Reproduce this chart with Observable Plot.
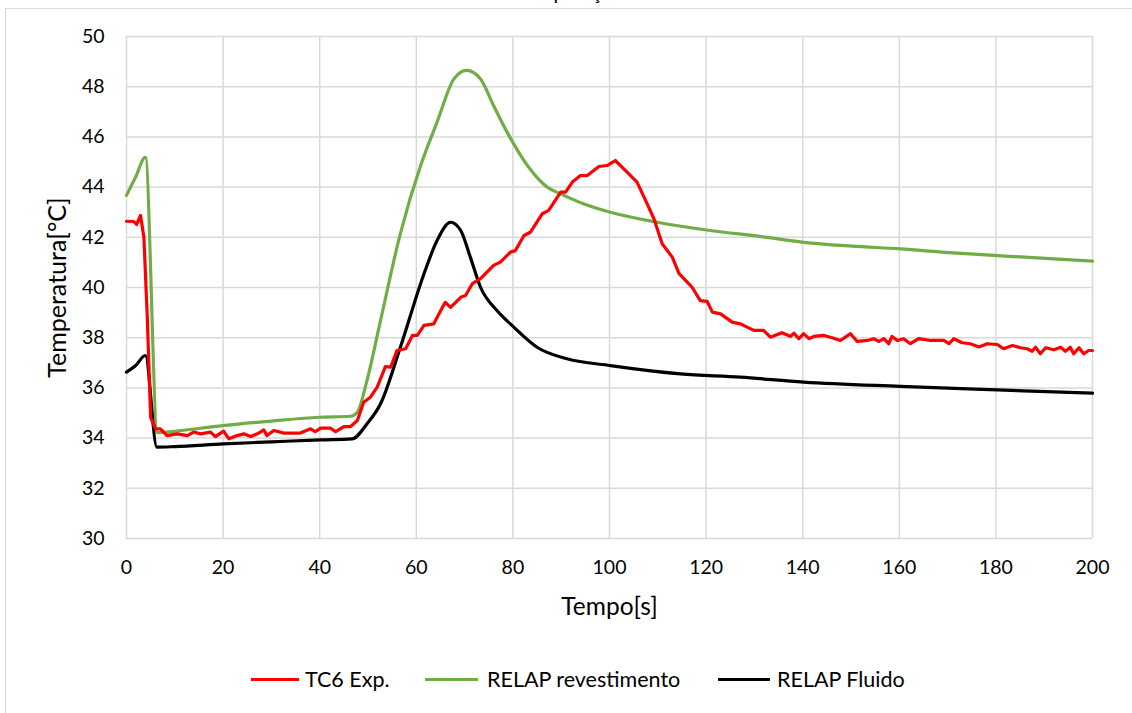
<!DOCTYPE html>
<html>
<head>
<meta charset="utf-8">
<script src="https://cdn.jsdelivr.net/npm/d3@7"></script>
<script src="https://cdn.jsdelivr.net/npm/@observablehq/plot@0.6"></script>
<style>
  html, body { margin: 0; padding: 0; background: #fff; }
  body { width: 1132px; height: 713px; position: relative; overflow: hidden; font-family: Lato, "Open Sans", sans-serif; color: #000; }
  #frame { position: absolute; left: 5px; top: 8px; width: 1300px; height: 900px; border: 1px solid #d9d9d9; box-sizing: border-box; }
  #title { position: absolute; left: 0; width: 1140px; top: -20px; text-align: center; font-size: 20px; }
  #chart { position: absolute; left: 0; top: 0; }
  #legend { position: absolute; left: 0; top: 666px; width: 1132px; height: 26px; font-size: 21.5px; }
  .swatch { position: absolute; top: 12px; height: 3px; }
  .label { position: absolute; top: 0; line-height: 26px; white-space: nowrap; }
</style>
</head>
<body>
<div id="frame"></div>
<div id="title"></div>
<div id="chart"></div>
<div id="legend"></div>
<script>
// ---- data ----
const chartTitle = "Comparação.";
const xLabel = "Tempo[s]";
const yLabel = "Temperatura[°C]";
const seriesNames = ["TC6 Exp.", "RELAP revestimento", "RELAP Fluido"];
const seriesColors = ["#ff0000", "#70ad47", "#000000"];
const xTicks = [0, 20, 40, 60, 80, 100, 120, 140, 160, 180, 200];
const yTicks = [30, 32, 34, 36, 38, 40, 42, 44, 46, 48, 50];

// TC6 Exp. (experimental)
const tExp = [0, 1.5, 2.1, 2.9, 3.6, 4.3, 5.0, 6.0, 7.0, 8.4, 10.5, 12.6, 13.9, 15.3, 17.4, 18.4, 20.1, 21.2, 22.9, 24.3, 25.7, 27.4, 28.4, 29.1, 30.5, 32.6, 36.0, 38.1, 39.1, 40.2, 42.2, 43.3, 45.0, 46.4, 47.8, 49.1, 50.5, 51.9, 53.6, 54.7, 56.0, 57.8, 59.2, 60.2, 61.6, 63.6, 64.7, 66.0, 67.1, 69.2, 70.2, 71.6, 73.3, 76.0, 77.4, 79.5, 80.5, 82.3, 83.6, 86.1, 87.4, 89.9, 90.9, 92.3, 94.0, 95.4, 97.8, 99.5, 101.2, 103.7, 105.7, 107.8, 109.2, 110.9, 113.0, 114.4, 116.1, 117.1, 118.8, 120.2, 121.3, 123.0, 125.4, 127.1, 129.9, 131.9, 133.3, 135.7, 137.5, 138.2, 139.2, 140.2, 141.3, 142.3, 144.4, 146.1, 147.8, 149.9, 151.3, 153.4, 154.7, 155.8, 156.8, 157.8, 158.5, 159.6, 160.9, 162.3, 164.0, 166.5, 169.2, 170.3, 171.3, 173.0, 174.7, 176.5, 178.2, 180.3, 181.6, 183.4, 185.1, 186.5, 187.5, 188.2, 189.2, 190.3, 192.0, 193.4, 194.4, 195.4, 196.1, 197.2, 198.2, 199.2, 200];
const tempExp = [42.64, 42.63, 42.51, 42.87, 42.0, 38.82, 34.83, 34.37, 34.37, 34.1, 34.17, 34.1, 34.24, 34.17, 34.24, 34.06, 34.28, 33.97, 34.1, 34.17, 34.06, 34.2, 34.33, 34.1, 34.3, 34.2, 34.2, 34.37, 34.26, 34.4, 34.4, 34.26, 34.46, 34.46, 34.7, 35.43, 35.63, 36.03, 36.85, 36.83, 37.49, 37.56, 38.09, 38.09, 38.49, 38.55, 38.95, 39.41, 39.21, 39.61, 39.68, 40.15, 40.35, 40.88, 41.01, 41.41, 41.47, 42.07, 42.2, 42.94, 43.07, 43.8, 43.8, 44.2, 44.46, 44.46, 44.82, 44.86, 45.06, 44.59, 44.2, 43.33, 42.74, 41.74, 41.21, 40.55, 40.21, 40.01, 39.48, 39.45, 39.02, 38.95, 38.62, 38.55, 38.29, 38.29, 38.02, 38.2, 38.05, 38.18, 37.96, 38.16, 37.96, 38.05, 38.09, 38.0, 37.89, 38.16, 37.85, 37.89, 37.96, 37.85, 37.96, 37.76, 38.05, 37.89, 37.96, 37.76, 37.96, 37.89, 37.89, 37.76, 37.96, 37.8, 37.76, 37.63, 37.76, 37.73, 37.56, 37.69, 37.6, 37.56, 37.46, 37.62, 37.36, 37.6, 37.52, 37.62, 37.46, 37.62, 37.36, 37.6, 37.36, 37.49, 37.49];

// RELAP revestimento
const tRev = [0, 1.9, 3.9, 6.4, 8.4, 10, 20, 30, 40, 46.4, 47.8, 49.8, 52.6, 56.7, 60.9, 64.3, 67.8, 70.4, 73.3, 76.0, 78.8, 83.0, 87.1, 89.9, 94.7, 100.2, 109.9, 120.9, 131.3, 140.2, 150.2, 160.2, 170.3, 180.3, 190.3, 200];
const tempRev = [43.67, 44.4, 45.19, 34.22, 34.24, 34.27, 34.5, 34.68, 34.83, 34.87, 35.03, 36.3, 38.69, 42.15, 44.86, 46.59, 48.31, 48.65, 48.31, 47.25, 46.19, 44.86, 44.0, 43.73, 43.33, 43.0, 42.6, 42.27, 42.03, 41.8, 41.65, 41.54, 41.39, 41.27, 41.16, 41.05];

// RELAP Fluido
const tFlu = [0, 1.9, 3.9, 6.3, 10, 20.1, 30, 40.2, 46.7, 49.8, 52.6, 56.7, 61.6, 64.3, 67.1, 69.2, 71.2, 73.3, 76.7, 80.2, 85.0, 91.2, 100.2, 114.7, 127.1, 140.2, 160.2, 180.3, 200];
const tempFlu = [36.63, 36.89, 37.29, 33.64, 33.66, 33.77, 33.85, 33.93, 33.97, 34.57, 35.37, 37.62, 40.55, 41.87, 42.6, 42.27, 41.2, 40.01, 39.08, 38.42, 37.62, 37.16, 36.89, 36.56, 36.43, 36.23, 36.06, 35.92, 35.79];

// ---- build ----
const toRows = (ts, vs, s) => ts.map((t, i) => ({t, v: vs[i], s}));
const exp = toRows(tExp, tempExp, seriesNames[0]);
const rev = toRows(tRev, tempRev, seriesNames[1]);
const flu = toRows(tFlu, tempFlu, seriesNames[2]);

const font = "Lato, 'Open Sans', sans-serif";
const W = 1132, H = 640;

const chart = Plot.plot({
  width: W,
  height: H,
  marginLeft: 126,
  marginRight: 40,
  marginTop: 36,
  marginBottom: 102,
  style: {fontFamily: font, fontSize: "19.5px", color: "#000", background: "transparent", overflow: "visible"},
  x: {domain: [0, 200]},
  y: {domain: [30, 50]},
  marks: [
    Plot.gridX(xTicks, {stroke: "#d9d9d9", strokeOpacity: 1, strokeWidth: 1.5}),
    Plot.gridY(yTicks, {stroke: "#d9d9d9", strokeOpacity: 1, strokeWidth: 1.5}),
    Plot.axisX({ticks: xTicks, tickSize: 0, tickPadding: 22, label: null, fontSize: 19.5}),
    Plot.axisY({ticks: yTicks, tickSize: 0, tickPadding: 22, label: null, fontSize: 19.5}),
    Plot.line(rev, {x: "t", y: "v", stroke: seriesColors[1], strokeWidth: 3.2, curve: "monotone-x"}),
    Plot.line(flu, {x: "t", y: "v", stroke: seriesColors[2], strokeWidth: 3.2, curve: "monotone-x"}),
    Plot.line(exp, {x: "t", y: "v", stroke: seriesColors[0], strokeWidth: 3.2, curve: "linear", strokeLinejoin: "round"}),
    Plot.text([xLabel], {text: d => d, frameAnchor: "bottom", textAnchor: "middle", lineAnchor: "middle", dy: 69, fontSize: 24.5, fill: "#000"}),
    Plot.text([yLabel], {text: d => d, frameAnchor: "left", textAnchor: "middle", lineAnchor: "middle", dx: -69, rotate: -90, fontSize: 25, fill: "#000"})
  ]
});
document.getElementById("chart").appendChild(chart);
document.getElementById("title").textContent = chartTitle;

// legend
const legendSwatchX = [251, 425, 718];
const legendSwatchW = [48, 53, 52];
const legendTextX = [305, 487, 777];
const legend = document.getElementById("legend");
seriesNames.forEach((name, i) => {
  const sw = document.createElement("div");
  sw.className = "swatch";
  sw.style.left = legendSwatchX[i] + "px";
  sw.style.width = legendSwatchW[i] + "px";
  sw.style.background = seriesColors[i];
  const tx = document.createElement("div");
  tx.className = "label";
  tx.style.left = legendTextX[i] + "px";
  tx.textContent = name;
  legend.appendChild(sw);
  legend.appendChild(tx);
});
</script>
</body>
</html>
